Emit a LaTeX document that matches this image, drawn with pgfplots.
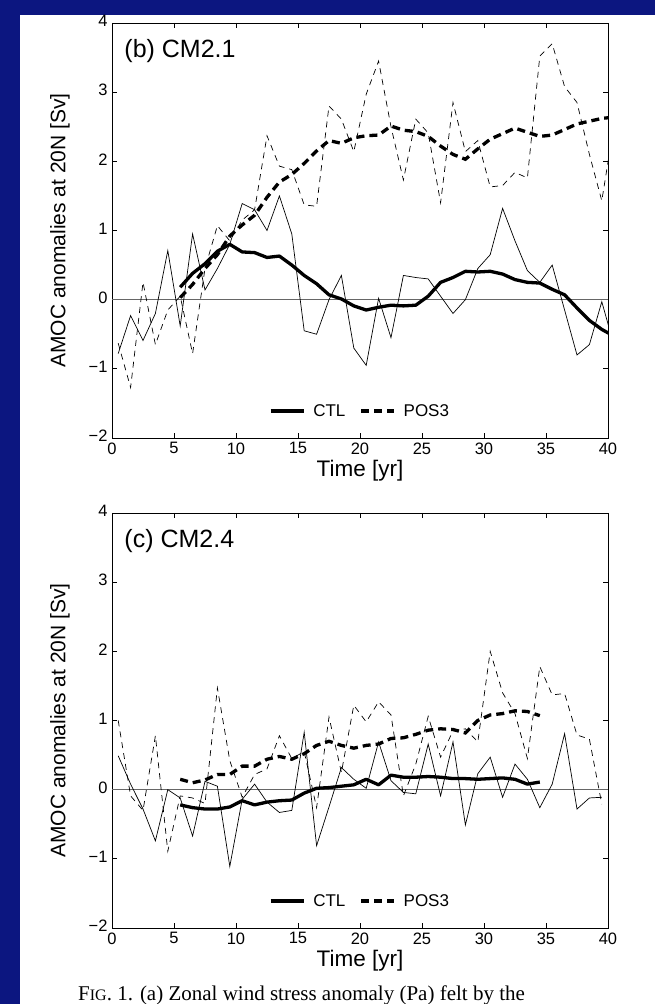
\documentclass[border=0pt]{standalone}
\usepackage{pgfplots}
\pgfplotsset{compat=1.18}
\usepackage{pgfplotstable}
\usepackage{fontspec}
\setmainfont{Liberation Sans}
\newfontfamily\capfont{Liberation Serif}
\definecolor{bgblue}{RGB}{12,22,128}

% ---- panel (b) CM2.1 ----
\pgfplotstableread{
t v
0.5 -0.78
1.5 -0.23
2.5 -0.59
3.5 -0.20
4.5 0.71
5.5 -0.38
6.5 0.95
7.5 0.14
8.5 0.45
9.5 0.80
10.5 1.39
11.5 1.30
12.5 1.00
13.5 1.50
14.5 0.95
15.5 -0.45
16.5 -0.50
17.5 0.00
18.5 0.35
19.5 -0.70
20.5 -0.95
21.5 0.02
22.5 -0.55
23.5 0.35
24.5 0.32
25.5 0.30
26.5 0.05
27.5 -0.20
28.5 0.00
29.5 0.45
30.5 0.65
31.5 1.32
32.5 0.85
33.5 0.42
34.5 0.25
35.5 0.50
36.5 -0.15
37.5 -0.80
38.5 -0.65
39.5 -0.03
40.5 -0.67
}\ctlB
\pgfplotstableread{
t v
0.5 -0.63
1.5 -1.27
2.5 0.25
3.5 -0.65
4.5 -0.15
5.5 0.05
6.5 -0.78
7.5 0.45
8.5 1.07
9.5 0.85
10.5 1.15
11.5 1.30
12.5 2.37
13.5 1.93
14.5 1.88
15.5 1.37
16.5 1.35
17.5 2.80
18.5 2.61
19.5 2.14
20.5 2.97
21.5 3.45
22.5 2.50
23.5 1.73
24.5 2.61
25.5 2.41
26.5 1.40
27.5 2.85
28.5 2.14
29.5 2.30
30.5 1.63
31.5 1.65
32.5 1.84
33.5 1.76
34.5 3.52
35.5 3.70
36.5 3.08
37.5 2.85
38.5 2.10
39.5 1.43
40.5 2.55
}\posB
\pgfplotstableread{
t v
5.5 0.18
6.5 0.38
7.5 0.52
8.5 0.70
9.5 0.80
10.5 0.69
11.5 0.68
12.5 0.61
13.5 0.63
14.5 0.50
15.5 0.35
16.5 0.23
17.5 0.07
18.5 0.01
19.5 -0.09
20.5 -0.15
21.5 -0.11
22.5 -0.08
23.5 -0.09
24.5 -0.08
25.5 0.05
26.5 0.25
27.5 0.32
28.5 0.41
29.5 0.40
30.5 0.41
31.5 0.37
32.5 0.29
33.5 0.25
34.5 0.24
35.5 0.15
36.5 0.07
37.5 -0.12
38.5 -0.30
39.5 -0.43
40.5 -0.53
}\ctlBm
\pgfplotstableread{
t v
5.5 0.03
6.5 0.22
7.5 0.45
8.5 0.65
9.5 0.92
10.5 1.08
11.5 1.22
12.5 1.48
13.5 1.70
14.5 1.81
15.5 1.97
16.5 2.15
17.5 2.30
18.5 2.26
19.5 2.34
20.5 2.37
21.5 2.38
22.5 2.51
23.5 2.45
24.5 2.43
25.5 2.36
26.5 2.22
27.5 2.10
28.5 2.03
29.5 2.18
30.5 2.32
31.5 2.40
32.5 2.48
33.5 2.42
34.5 2.36
35.5 2.38
36.5 2.46
37.5 2.54
38.5 2.58
39.5 2.62
40.5 2.64
}\posBm

% ---- panel (c) CM2.4 ----
\pgfplotstableread{
t v
0.5 0.49
1.5 0.08
2.5 -0.28
3.5 -0.74
4.5 0.00
5.5 -0.12
6.5 -0.67
7.5 0.12
8.5 0.05
9.5 -1.11
10.5 -0.14
11.5 0.08
12.5 -0.18
13.5 -0.33
14.5 -0.30
15.5 0.83
16.5 -0.81
17.5 -0.25
18.5 0.32
19.5 0.15
20.5 0.02
21.5 0.69
22.5 0.13
23.5 -0.04
24.5 -0.06
25.5 0.66
26.5 -0.09
27.5 0.69
28.5 -0.51
29.5 0.23
30.5 0.47
31.5 -0.11
32.5 0.37
33.5 0.15
34.5 -0.26
35.5 0.08
36.5 0.81
37.5 -0.28
38.5 -0.12
39.5 -0.11
}\ctlC
\pgfplotstableread{
t v
0.5 1.00
1.5 -0.09
2.5 -0.30
3.5 0.78
4.5 -0.89
5.5 -0.09
6.5 -0.12
7.5 -0.20
8.5 1.47
9.5 0.42
10.5 -0.11
11.5 0.22
12.5 0.30
13.5 0.78
14.5 0.45
15.5 0.55
16.5 -0.26
17.5 1.05
18.5 0.25
19.5 1.22
20.5 0.98
21.5 1.27
22.5 1.08
23.5 -0.09
24.5 0.37
25.5 1.06
26.5 0.47
27.5 0.85
28.5 0.88
29.5 0.69
30.5 2.00
31.5 1.40
32.5 1.10
33.5 0.45
34.5 1.78
35.5 1.37
36.5 1.39
37.5 0.79
38.5 0.73
39.5 -0.21
}\posC
\pgfplotstableread{
t v
5.5 -0.22
6.5 -0.26
7.5 -0.28
8.5 -0.28
9.5 -0.25
10.5 -0.16
11.5 -0.22
12.5 -0.18
13.5 -0.16
14.5 -0.15
15.5 -0.05
16.5 0.02
17.5 0.03
18.5 0.05
19.5 0.07
20.5 0.15
21.5 0.07
22.5 0.21
23.5 0.18
24.5 0.18
25.5 0.19
26.5 0.18
27.5 0.16
28.5 0.16
29.5 0.15
30.5 0.16
31.5 0.17
32.5 0.15
33.5 0.08
34.5 0.11
}\ctlCm
\pgfplotstableread{
t v
5.5 0.15
6.5 0.10
7.5 0.14
8.5 0.22
9.5 0.22
10.5 0.34
11.5 0.34
12.5 0.44
13.5 0.48
14.5 0.44
15.5 0.52
16.5 0.64
17.5 0.70
18.5 0.64
19.5 0.60
20.5 0.64
21.5 0.66
22.5 0.74
23.5 0.75
24.5 0.80
25.5 0.86
26.5 0.88
27.5 0.87
28.5 0.82
29.5 1.00
30.5 1.08
31.5 1.10
32.5 1.14
33.5 1.13
34.5 1.07
}\posCm

\pgfplotsset{
  amoc/.style={
    scale only axis, width=496pt, height=415pt,
    xmin=0, xmax=40, ymin=-2, ymax=4,
    xtick={0,5,...,40}, ytick={-2,-1,0,1,2,3,4},
    xticklabels={0,5,10,15,20,25,30,35,40},
    yticklabels={−2,−1,0,1,2,3,4},
    tick align=inside, major tick length=5pt,
    axis line style={line width=0.9pt},
    every tick/.style={black, line width=0.8pt},
    xticklabel style={font=\fontsize{16.5}{16.5}\selectfont, yshift=-1pt},
    yticklabel style={font=\fontsize{16.5}{16.5}\selectfont, xshift=-1pt, yshift=2pt},
    xlabel={Time [yr]},
    ylabel={AMOC anomalies at 20N [Sv]},
    xlabel style={font=\fontsize{22.5}{22.5}\selectfont,
      at={(axis description cs:0.5,0)}, anchor=north, yshift=-19pt},
    ylabel style={font=\fontsize{21}{21}\selectfont,
      at={(axis description cs:-0.105,0.5)}, anchor=center},
    legend style={draw=none, fill=none, at={(axis description cs:0.5,0.065)},
      anchor=center, legend columns=2, font=\fontsize{17}{17}\selectfont,
      /tikz/every odd column/.append style={column sep=6pt},
      /tikz/every even column/.append style={column sep=12pt}},
    legend image code/.code={\draw[#1] (0pt,0pt) -- (33pt,0pt);},
    thin solid/.style={black, line width=0.7pt},
    thin dash/.style={black, line width=0.7pt, dash pattern=on 6pt off 5pt},
    thick solid/.style={black, line width=3.3pt, line join=round},
    thick dash/.style={black, line width=3.3pt, dash pattern=on 8pt off 5pt},
  }
}

\begin{document}
\begin{tikzpicture}[x=1pt,y=1pt]
\useasboundingbox (0,0) rectangle (655,1004);
\clip (0,0) rectangle (655,1004);
\fill[bgblue] (0,0) rectangle (655,1004);
\fill[white] (20,0) rectangle (655,989);

\begin{axis}[amoc, at={(112pt,566pt)}, anchor=south west]
  \addlegendimage{thick solid}
  \addlegendentry{CTL}
  \addlegendimage{thick dash}
  \addlegendentry{POS3}
  \addplot[gray!80!black, line width=0.7pt, forget plot] coordinates {(0,0) (40,0)};
  \addplot[thin solid, forget plot] table[x=t,y=v] {\ctlB};
  \addplot[thin dash, forget plot] table[x=t,y=v] {\posB};
  \addplot[thick solid, forget plot] table[x=t,y=v] {\ctlBm};
  \addplot[thick dash, forget plot] table[x=t,y=v] {\posBm};
  \node[anchor=west, font=\fontsize{25}{25}\selectfont] at (axis description cs:0.018,0.932) {(b) CM2.1};
\end{axis}

\begin{axis}[amoc, at={(112pt,76pt)}, anchor=south west]
  \addlegendimage{thick solid}
  \addlegendentry{CTL}
  \addlegendimage{thick dash}
  \addlegendentry{POS3}
  \addplot[gray!80!black, line width=0.7pt, forget plot] coordinates {(0,0) (40,0)};
  \addplot[thin solid, forget plot] table[x=t,y=v] {\ctlC};
  \addplot[thin dash, forget plot] table[x=t,y=v] {\posC};
  \addplot[thick solid, forget plot] table[x=t,y=v] {\ctlCm};
  \addplot[thick dash, forget plot] table[x=t,y=v] {\posCm};
  \node[anchor=west, font=\fontsize{25}{25}\selectfont] at (axis description cs:0.018,0.932) {(c) CM2.4};
\end{axis}

\node[anchor=base west, inner sep=0pt, font=\capfont\fontsize{21}{21}\selectfont] at (78,4)
  {F{\fontsize{16}{16}\selectfont IG}. 1. (a) Zonal wind stress anomaly (Pa) felt by the};
\end{tikzpicture}
\end{document}
